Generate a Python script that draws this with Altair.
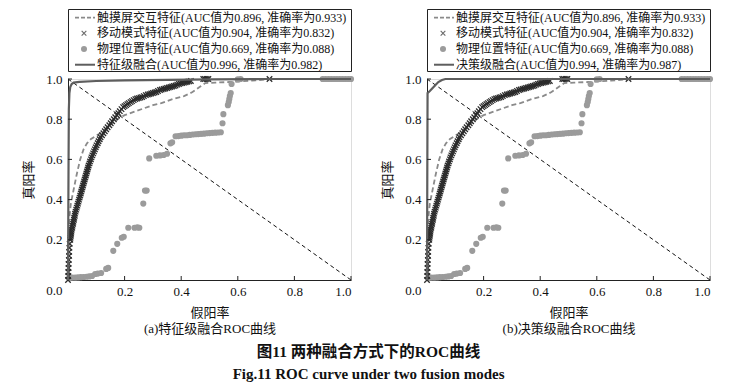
import altair as alt
import pandas as pd

FONT = "Liberation Serif, Noto Sans CJK SC"

# ---- data ----
# 触摸屏交互特征 (dashed line), shared by both panels
touch_fpr = [0, 0.002, 0.004, 0.01, 0.02, 0.03, 0.043, 0.055, 0.067, 0.08, 0.096, 0.12, 0.14, 0.16,
             0.18, 0.2, 0.23, 0.27, 0.3, 0.33, 0.37, 0.41, 0.44, 0.47, 0.485, 0.52, 0.57, 0.65, 0.72, 1.0]
touch_tpr = [0, 0.15, 0.3, 0.38, 0.45, 0.52, 0.6, 0.65, 0.68, 0.70, 0.715, 0.735, 0.76, 0.785,
             0.805, 0.82, 0.835, 0.855, 0.87, 0.88, 0.9, 0.915, 0.935, 0.965, 0.98, 0.982, 0.985, 0.992, 1.0, 1.0]

# 移动模式特征 (x markers)
move_fpr = [0.000, 0.001, 0.001, 0.002, 0.002, 0.003, 0.004, 0.004, 0.005, 0.006, 0.008, 0.009, 0.010,
            0.011, 0.012, 0.013, 0.015, 0.016, 0.018, 0.019, 0.021, 0.022, 0.024, 0.025, 0.027, 0.029,
            0.031, 0.033, 0.035, 0.037, 0.039, 0.041, 0.043, 0.045, 0.047, 0.049, 0.051, 0.053, 0.055,
            0.057, 0.059, 0.061, 0.063, 0.065, 0.067, 0.069, 0.071, 0.073, 0.076, 0.078, 0.081, 0.083,
            0.086, 0.089, 0.092, 0.095, 0.098, 0.101, 0.105, 0.108, 0.112, 0.115, 0.120, 0.125, 0.130,
            0.135, 0.140, 0.146, 0.151, 0.156, 0.162, 0.167, 0.173, 0.178, 0.183, 0.189, 0.195, 0.200,
            0.205, 0.210, 0.215, 0.221, 0.226, 0.232, 0.238, 0.244, 0.250, 0.256, 0.262, 0.268, 0.275,
            0.282, 0.288, 0.294, 0.300, 0.306, 0.312, 0.318, 0.325, 0.331, 0.338, 0.344, 0.350, 0.356,
            0.362, 0.368, 0.374, 0.380, 0.386, 0.392, 0.398, 0.404, 0.410, 0.416, 0.422, 0.428, 0.434,
            0.478, 0.484, 0.490, 0.496, 0.712]
move_tpr = [0.00, 0.02, 0.04, 0.06, 0.08, 0.10, 0.12, 0.14, 0.16, 0.18, 0.20, 0.21, 0.22,
            0.23, 0.24, 0.25, 0.26, 0.27, 0.28, 0.29, 0.30, 0.31, 0.32, 0.33, 0.34, 0.35,
            0.36, 0.37, 0.38, 0.39, 0.40, 0.41, 0.42, 0.43, 0.44, 0.45, 0.46, 0.47, 0.48,
            0.49, 0.50, 0.51, 0.52, 0.53, 0.54, 0.55, 0.56, 0.57, 0.58, 0.59, 0.60, 0.61,
            0.62, 0.63, 0.64, 0.65, 0.66, 0.67, 0.68, 0.69, 0.70, 0.71, 0.72, 0.73, 0.74,
            0.75, 0.76, 0.77, 0.78, 0.79, 0.80, 0.81, 0.82, 0.83, 0.84, 0.85, 0.86, 0.865,
            0.87, 0.875, 0.88, 0.885, 0.89, 0.895, 0.90, 0.903, 0.905, 0.908, 0.91, 0.915, 0.92,
            0.923, 0.925, 0.928, 0.93, 0.933, 0.935, 0.94, 0.945, 0.948, 0.95, 0.953, 0.955, 0.958,
            0.96, 0.963, 0.965, 0.968, 0.972, 0.975, 0.978, 0.98, 0.982, 0.984, 0.986, 0.988, 0.99,
            1.0, 1.0, 1.0, 1.0, 1.0]

# 物理位置特征 (grey dots)
phys_fpr = [0.005, 0.015, 0.025, 0.035, 0.045, 0.055, 0.065, 0.075, 0.085, 0.096, 0.105, 0.117, 0.135,
            0.142, 0.16, 0.174, 0.19, 0.197, 0.213, 0.235, 0.245, 0.252, 0.266, 0.272, 0.278, 0.287,
            0.312, 0.325, 0.338, 0.35, 0.362, 0.368, 0.38, 0.39, 0.40, 0.41, 0.42, 0.43, 0.44, 0.45,
            0.46, 0.47, 0.48, 0.49, 0.50, 0.51, 0.52, 0.53, 0.54, 0.546, 0.549, 0.565, 0.568, 0.570,
            0.572, 0.575, 0.578, 0.60, 0.61, 0.90, 0.91, 0.92, 0.93, 0.94, 0.95, 0.96, 0.97, 0.98,
            0.99, 1.0]
phys_tpr = [0.01, 0.012, 0.012, 0.013, 0.014, 0.015, 0.016, 0.018, 0.02, 0.03, 0.032, 0.035, 0.055,
            0.06, 0.145, 0.18, 0.21, 0.215, 0.26, 0.26, 0.262, 0.26, 0.38, 0.445, 0.445, 0.605,
            0.618, 0.62, 0.622, 0.628, 0.68, 0.685, 0.715, 0.716, 0.718, 0.72, 0.72, 0.722, 0.724, 0.725,
            0.726, 0.727, 0.728, 0.73, 0.731, 0.732, 0.733, 0.734, 0.735, 0.78, 0.825, 0.87, 0.885, 0.90,
            0.915, 0.93, 0.975, 0.998, 1.0, 1.0, 1.0, 1.0, 1.0, 1.0, 1.0, 1.0, 1.0, 1.0,
            1.0, 1.0]

# 特征级融合 (left panel, solid)
feat_fpr = [0, 0.001, 0.002, 0.003, 0.005, 0.008, 0.013, 0.02, 0.04, 0.1, 0.2, 0.35, 0.5, 0.7, 1.0]
feat_tpr = [0, 0.3, 0.6, 0.85, 0.93, 0.96, 0.975, 0.982, 0.986, 0.99, 0.993, 0.996, 0.998, 1.0, 1.0]

# 决策级融合 (right panel, solid)
dec_fpr = [0, 0.001, 0.002, 0.01, 0.02, 0.03, 0.04, 0.053, 0.065, 1.0]
dec_tpr = [0, 0.5, 0.93, 0.94, 0.955, 0.97, 0.985, 0.995, 1.0, 1.0]

# diagonal reference line
diag_fpr = [0, 1]
diag_tpr = [1, 0]

tick_values = [0.2, 0.4, 0.6, 0.8, 1.0]
y_label_values = [0.0, 0.2, 0.4, 0.6, 0.8, 1.0]

legend_common = [
    "触摸屏交互特征(AUC值为0.896, 准确率为0.933)",
    "移动模式特征(AUC值为0.904, 准确率为0.832)",
    "物理位置特征(AUC值为0.669, 准确率为0.088)",
]
legend_left_fusion = "特征级融合(AUC值为0.996, 准确率为0.982)"
legend_right_fusion = "决策级融合(AUC值为0.994, 准确率为0.987)"
legend_kinds = ["dash", "cross", "dot", "solid"]

sub_left = "(a)特征级融合ROC曲线"
sub_right = "(b)决策级融合ROC曲线"
x_title = "假阳率"
y_title = "真阳率"
caption_cn = "图11   两种融合方式下的ROC曲线"
caption_en = "Fig.11   ROC curve under two fusion modes"

W, H = 283, 201
LEG_H = 62
GREY_LINE = "#8a8a8a"
DOT = "#9b9b9b"
CROSS = "#2b2b2b"
SOLID = "#5e5e5e"
X_PATH = "M-1,-1L1,1M-1,1L1,-1"

touch_df = pd.DataFrame({"x": touch_fpr, "y": touch_tpr})
move_df = pd.DataFrame({"x": move_fpr, "y": move_tpr})
phys_df = pd.DataFrame({"x": phys_fpr, "y": phys_tpr})
diag_df = pd.DataFrame({"x": diag_fpr, "y": diag_tpr})
xt_df = pd.DataFrame({"v": tick_values})
yt_df = pd.DataFrame({"v": tick_values})

xs = alt.Scale(domain=[0, 1], nice=False, zero=False)
ys = alt.Scale(domain=[0, 1], nice=False, zero=False)


def legend_chart(fusion_label):
    df = pd.DataFrame({"idx": [0, 1, 2, 3], "kind": legend_kinds,
                       "label": legend_common + [fusion_label]})
    y = alt.Y("idx:Q", scale=alt.Scale(domain=[-0.55, 3.4], reverse=True), axis=None)
    base = alt.Chart(df)
    dash = base.transform_filter("datum.kind == 'dash'").mark_rule(
        color=GREY_LINE, strokeWidth=1.6, strokeDash=[4, 2]).encode(
        y=y, x=alt.value(7), x2=alt.value(27))
    cross = base.transform_filter("datum.kind == 'cross'").mark_point(
        shape=X_PATH, color=CROSS, strokeWidth=1.1, size=22, filled=False).encode(
        y=y, x=alt.value(16))
    dot = base.transform_filter("datum.kind == 'dot'").mark_circle(
        color=DOT, size=36, opacity=1).encode(y=y, x=alt.value(16))
    solid = base.transform_filter("datum.kind == 'solid'").mark_rule(
        color=SOLID, strokeWidth=2).encode(y=y, x=alt.value(7), x2=alt.value(27))
    text = base.mark_text(align="left", baseline="middle", font=FONT, fontSize=12,
                          color="#111").encode(y=y, x=alt.value(29), text="label:N")
    return alt.layer(dash, cross, dot, solid, text).properties(
        width=W, height=LEG_H,
        view=alt.ViewBackground(stroke="#222", strokeWidth=1, fill="white"))


def plot_chart(fx, fy, subtitle):
    fusion_df = pd.DataFrame({"x": fx, "y": fy})
    xenc = alt.X("x:Q", scale=xs, axis=alt.Axis(
        values=tick_values, format=".1f", title=[x_title, subtitle], grid=False, tickSize=0,
        labelFont=FONT, labelFontSize=13, labelPadding=5, labelColor="#111",
        titleFont=FONT, titleFontSize=13, titleFontWeight="normal", titleColor="#111",
        titlePadding=8, titleLineHeight=16, domainColor="#222", domainWidth=1))
    yenc = alt.Y("y:Q", scale=ys, axis=alt.Axis(
        values=y_label_values, format=".1f", title=y_title, grid=False, tickSize=0,
        labelFont=FONT, labelFontSize=13, labelPadding=6, labelColor="#111",
        labelBaseline={"condition": {"test": "datum.value == 0", "value": "top"}, "value": "middle"},
        labelOffset={"condition": {"test": "datum.value == 0", "value": 4}, "value": 0},
        titleFont=FONT, titleFontSize=13, titleFontWeight="normal", titleColor="#111",
        titlePadding=10, domainColor="#222", domainWidth=1))
    diag = alt.Chart(diag_df).mark_line(color="#111", strokeWidth=1, strokeDash=[4, 3]).encode(
        x=xenc, y=yenc)
    touch = alt.Chart(touch_df).mark_line(color=GREY_LINE, strokeWidth=1.8, strokeDash=[5, 3]).encode(
        x="x:Q", y="y:Q")
    phys = alt.Chart(phys_df).mark_circle(color=DOT, size=38, opacity=1).encode(x="x:Q", y="y:Q")
    move = alt.Chart(move_df).mark_point(shape=X_PATH, color=CROSS, strokeWidth=1.3, size=30,
                                         filled=False, opacity=1).encode(x="x:Q", y="y:Q")
    fusion = alt.Chart(fusion_df).mark_line(color=SOLID, strokeWidth=2.2).encode(x="x:Q", y="y:Q")
    xticks = alt.Chart(xt_df).mark_rule(color="#222", strokeWidth=1).encode(
        x="v:Q", y=alt.value(H), y2=alt.value(H - 4))
    yticks = alt.Chart(yt_df).mark_rule(color="#222", strokeWidth=1).encode(
        y="v:Q", x=alt.value(0), x2=alt.value(4))
    return alt.layer(diag, touch, phys, move, fusion, xticks, yticks).properties(width=W, height=H)


def panel(fx, fy, fusion_label, subtitle):
    return alt.vconcat(legend_chart(fusion_label), plot_chart(fx, fy, subtitle),
                       spacing=8, bounds="flush")


chart = alt.hconcat(
    panel(feat_fpr, feat_tpr, legend_left_fusion, sub_left),
    panel(dec_fpr, dec_tpr, legend_right_fusion, sub_right),
    spacing=25,
).properties(
    title=alt.TitleParams(
        text=caption_cn, subtitle=caption_en,
        orient="bottom", anchor="middle", font=FONT, fontSize=15.5, fontWeight="bold",
        color="#111", offset=9, subtitleFont=FONT, subtitleFontSize=15,
        subtitleFontWeight="bold", subtitleColor="#111", subtitlePadding=7),
    padding={"left": 14, "top": 0, "right": 0, "bottom": 0},
).configure_view(stroke=None).configure(background="white")

chart.save("out.html", embed_options={"renderer": "svg", "actions": False})
